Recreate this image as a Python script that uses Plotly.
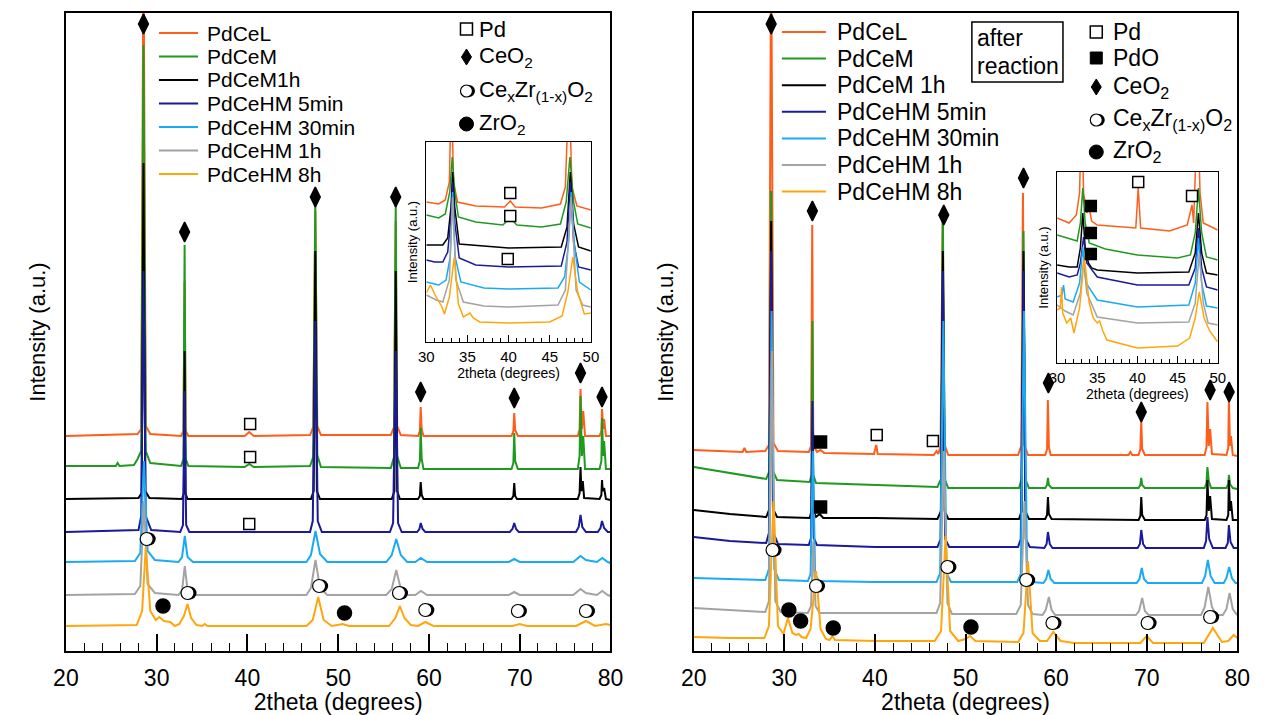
import plotly.graph_objects as go

W, H = 1265, 715
FONT = "Liberation Sans, Arial, sans-serif"

series_names_left = ["PdCeL", "PdCeM", "PdCeM1h", "PdCeHM 5min", "PdCeHM 30min", "PdCeHM 1h", "PdCeHM 8h"]
series_names_right = ["PdCeL", "PdCeM", "PdCeM 1h", "PdCeHM 5min", "PdCeHM 30min", "PdCeHM 1h", "PdCeHM 8h"]
colors = ["#FF5E1A", "#1F9A1F", "#000000", "#1A1A9A", "#1AAAF5", "#A3A3A3", "#FFA60D"]

# ---------------- left panel (as prepared), 2theta vs intensity (a.u., stacked) ----------------
L_PdCeL_x = [20, 27.9, 28.3, 28.55, 28.8, 29.3, 32.7, 32.95, 33.08, 33.2, 33.5, 39.7, 40.2, 40.7, 46.9, 47.25, 47.48, 47.7, 48.1, 55.8, 56.15, 56.34, 56.5, 56.9, 58.8, 59.0, 59.09, 59.2, 59.4, 69.1, 69.3, 69.4, 69.5, 69.8, 76.4, 76.6, 76.7, 76.85, 77.0, 77.2, 78.8, 79.0, 79.07, 79.2, 79.3, 79.5, 80]
L_PdCeL_y = [215, 217, 222, 720, 225, 217, 215, 220, 370, 220, 215, 215, 219, 215, 216, 224, 440, 225, 216, 216, 224, 430, 225, 216, 215, 220, 244, 222, 215, 215, 220, 238, 221, 215, 215, 222, 262, 222, 240, 215, 215, 220, 242, 222, 232, 215, 215]
L_PdCeM_x = [20, 25.5, 25.7, 25.9, 27.5, 27.9, 28.3, 28.55, 28.8, 29.3, 32.7, 32.95, 33.08, 33.2, 33.5, 39.7, 40.2, 40.7, 46.9, 47.25, 47.48, 47.7, 48.1, 55.8, 56.15, 56.34, 56.5, 56.9, 58.8, 59.0, 59.09, 59.2, 59.4, 69.1, 69.3, 69.4, 69.5, 69.8, 76.4, 76.6, 76.7, 76.85, 77.0, 77.2, 78.8, 79.0, 79.07, 79.2, 79.3, 79.5, 80]
L_PdCeM_y = [185, 185, 188, 185, 186, 192, 200, 606, 200, 188, 185, 192, 406, 192, 185, 184, 187, 184, 185, 194, 451, 196, 184, 183, 194, 446, 195, 183, 183, 190, 223, 192, 182, 182, 188, 218, 190, 182, 182, 195, 255, 195, 215, 182, 182, 190, 233, 195, 210, 182, 182]
L_PdCeM1h_x = [20, 28.0, 28.35, 28.55, 28.75, 29.2, 32.8, 33.0, 33.08, 33.17, 33.4, 47.0, 47.3, 47.48, 47.65, 48.0, 55.9, 56.2, 56.34, 56.5, 56.8, 58.8, 59.0, 59.09, 59.2, 59.4, 69.1, 69.3, 69.4, 69.5, 69.7, 76.4, 76.6, 76.7, 76.8, 76.95, 77.1, 78.8, 79.0, 79.07, 79.15, 79.3, 79.5, 80]
L_PdCeM1h_y = [152, 153, 158, 488, 160, 153, 152, 158, 300, 158, 152, 152, 160, 400, 160, 152, 152, 160, 380, 160, 152, 152, 155, 169, 156, 152, 152, 155, 168, 155, 152, 152, 158, 184, 160, 170, 153, 152, 156, 171, 160, 163, 152, 151]
L_5min_x = [20, 28.0, 28.3, 28.55, 28.8, 29.4, 32.6, 32.9, 33.08, 33.25, 33.6, 46.9, 47.2, 47.48, 47.75, 48.2, 55.7, 56.05, 56.34, 56.6, 57.0, 58.7, 58.95, 59.1, 59.3, 59.6, 68.9, 69.2, 69.4, 69.6, 69.9, 76.2, 76.5, 76.7, 76.9, 77.3, 78.6, 78.9, 79.07, 79.3, 79.7, 80]
L_5min_y = [119, 121, 135, 380, 135, 121, 119, 126, 260, 126, 119, 119, 130, 330, 130, 119, 119, 128, 300, 128, 119, 119, 122, 128, 122, 119, 119, 122, 128, 122, 119, 119, 124, 136, 124, 119, 119, 123, 130, 123, 119, 119]
L_30min_x = [20, 27.6, 28.2, 28.6, 29.0, 29.8, 32.4, 32.8, 33.1, 33.4, 34.0, 46.5, 47.0, 47.5, 48.0, 48.8, 55.3, 55.9, 56.4, 56.9, 57.6, 58.5, 59.1, 59.8, 68.8, 69.4, 70.0, 75.9, 76.7, 77.3, 78.5, 79.1, 79.7, 80]
L_30min_y = [89, 90, 98, 190, 100, 91, 89, 94, 115, 94, 89, 89, 96, 120, 97, 89, 89, 96, 112, 96, 89, 89, 93, 89, 89, 92, 89, 89, 95, 91, 89, 93, 89, 88]
L_1h_x = [20, 27.6, 28.2, 28.6, 29.0, 29.8, 32.4, 32.8, 33.1, 33.4, 34.0, 46.5, 47.0, 47.5, 48.0, 48.8, 55.3, 55.9, 56.4, 56.9, 57.6, 58.5, 59.1, 59.8, 68.8, 69.4, 70.0, 75.9, 76.7, 77.3, 78.5, 79.1, 79.7, 80]
L_1h_y = [56, 57, 65, 150, 67, 58, 56, 61, 85, 61, 56, 56, 63, 91, 63, 56, 56, 62, 81, 62, 56, 56, 60, 56, 56, 59, 56, 56, 62, 58, 56, 60, 56, 55]
L_8h_x = [20, 27.8, 28.4, 28.8, 29.3, 29.9, 30.3, 30.8, 31.5, 32.0, 32.5, 33.0, 33.4, 33.8, 34.4, 35.0, 35.3, 35.6, 46.5, 47.2, 47.8, 48.4, 49.3, 50.0, 50.5, 51.2, 55.6, 56.3, 56.8, 57.3, 58.0, 58.8, 59.6, 60.5, 69.2, 70.0, 70.8, 76.2, 77.3, 78.3, 79.0, 79.5, 80]
L_8h_y = [25, 26, 40, 104, 40, 31, 34, 30, 29, 25, 27, 35, 47, 33, 26, 25, 27, 25, 25, 31, 54, 31, 25, 26, 27, 25, 25, 33, 45, 33, 26, 25, 29, 25, 25, 27, 25, 25, 30, 25, 26, 27, 26]

# ---------------- right panel (after reaction) ----------------
R_PdCeL_x = [20, 25.4, 25.6, 25.8, 27.9, 28.3, 28.55, 28.8, 29.3, 32.7, 32.95, 33.08, 33.2, 33.6, 34.0, 34.4, 39.9, 40.15, 40.3, 46.5, 46.8, 47.0, 47.25, 47.48, 47.7, 48.1, 55.8, 56.15, 56.34, 56.5, 56.9, 58.8, 59.0, 59.09, 59.2, 59.4, 68.0, 68.2, 68.4, 69.1, 69.3, 69.4, 69.5, 69.8, 76.4, 76.6, 76.7, 76.85, 77.0, 77.2, 78.8, 79.0, 79.07, 79.2, 79.3, 79.5, 80]
R_PdCeL_y = [201, 199, 203, 199, 200, 206, 720, 208, 200, 199, 205, 426, 206, 199, 201, 198, 197, 206, 197, 196, 200, 197, 205, 432, 206, 196, 196, 205, 458, 206, 196, 196, 202, 251, 204, 196, 196, 199, 196, 196, 202, 231, 202, 196, 196, 204, 249, 205, 222, 197, 196, 203, 251, 205, 215, 196, 195]
R_PdCeM_x = [20, 24, 28.0, 28.35, 28.55, 28.75, 29.2, 32.8, 33.0, 33.1, 33.2, 33.5, 40, 46.9, 47.3, 47.5, 47.7, 48.1, 55.9, 56.2, 56.4, 56.6, 57.0, 58.8, 59.0, 59.1, 59.2, 59.5, 69.1, 69.3, 69.4, 69.5, 69.8, 76.4, 76.6, 76.7, 76.85, 77.1, 78.8, 79.0, 79.07, 79.2, 79.5, 80]
R_PdCeM_y = [184, 178, 172, 180, 460, 180, 171, 169, 176, 330, 176, 168, 166, 164, 172, 440, 172, 163, 163, 172, 420, 172, 163, 163, 166, 173, 166, 163, 163, 166, 173, 166, 163, 163, 168, 184, 170, 163, 163, 167, 176, 167, 163, 162]
R_PdCeM1h_x = [20, 24, 28.0, 28.35, 28.55, 28.75, 29.2, 32.8, 33.0, 33.1, 33.2, 33.5, 33.9, 34.3, 40, 46.9, 47.3, 47.5, 47.7, 48.1, 55.9, 56.2, 56.4, 56.6, 57.0, 58.8, 59.0, 59.1, 59.2, 59.5, 69.1, 69.3, 69.4, 69.5, 69.8, 76.4, 76.6, 76.7, 76.85, 77.0, 77.2, 78.8, 79.0, 79.07, 79.2, 79.3, 79.5, 80]
R_PdCeM1h_y = [141, 137, 134, 142, 430, 142, 134, 133, 140, 219, 140, 134, 137, 133, 133, 132, 140, 400, 140, 132, 132, 140, 400, 140, 132, 132, 136, 154, 137, 132, 131, 135, 154, 136, 131, 131, 136, 171, 140, 155, 132, 131, 136, 171, 140, 150, 131, 131]
R_5min_x = [20, 24, 28.0, 28.3, 28.55, 28.8, 29.3, 32.7, 32.95, 33.1, 33.25, 33.6, 40, 46.9, 47.25, 47.5, 47.75, 48.2, 55.8, 56.1, 56.4, 56.65, 57.1, 58.7, 58.95, 59.1, 59.3, 59.6, 69.0, 69.25, 69.4, 69.6, 69.9, 76.3, 76.55, 76.7, 76.9, 77.3, 78.7, 78.95, 79.07, 79.25, 79.6, 80]
R_5min_y = [114, 110, 108, 118, 400, 118, 107, 106, 113, 250, 113, 106, 104, 104, 112, 380, 112, 104, 104, 112, 380, 112, 104, 103, 107, 119, 107, 103, 103, 107, 121, 107, 103, 103, 110, 134, 112, 103, 103, 108, 126, 109, 103, 103]
R_30min_x = [20, 24, 27.9, 28.3, 28.6, 28.9, 29.4, 32.6, 32.9, 33.15, 33.4, 33.8, 40, 46.8, 47.2, 47.55, 47.9, 48.4, 55.7, 56.1, 56.45, 56.8, 57.3, 58.6, 58.9, 59.15, 59.4, 59.8, 68.9, 69.2, 69.45, 69.7, 70.1, 76.1, 76.45, 76.75, 77.05, 77.5, 78.5, 78.8, 79.1, 79.4, 79.8, 80]
R_30min_y = [73, 72, 71, 82, 340, 82, 71, 70, 77, 200, 77, 70, 69, 69, 78, 330, 78, 69, 69, 77, 340, 77, 69, 68, 72, 81, 72, 68, 68, 72, 83, 72, 68, 68, 75, 91, 75, 68, 68, 73, 84, 73, 68, 68]
R_1h_x = [20, 24, 27.9, 28.3, 28.65, 29.0, 29.6, 32.6, 32.95, 33.2, 33.45, 33.9, 40, 46.8, 47.2, 47.6, 48.0, 48.5, 55.6, 56.1, 56.5, 56.9, 57.4, 58.5, 58.85, 59.2, 59.5, 59.9, 68.8, 69.15, 69.5, 69.8, 70.2, 76.0, 76.4, 76.8, 77.2, 77.7, 78.4, 78.8, 79.15, 79.5, 79.9, 80]
R_1h_y = [43, 41, 39, 50, 300, 50, 39, 38, 45, 110, 45, 38, 38, 38, 48, 200, 48, 37, 37, 46, 150, 46, 37, 36, 41, 54, 41, 36, 36, 40, 53, 40, 36, 36, 44, 64, 44, 36, 36, 42, 58, 42, 37, 36]
R_8h_x = [20, 24, 27.8, 28.3, 28.8, 29.3, 29.9, 30.4, 30.9, 31.3, 31.6, 31.9, 32.4, 32.9, 33.5, 34.0, 34.6, 35.0, 35.3, 35.6, 40, 46.6, 47.3, 47.8, 48.3, 49.2, 50.0, 50.5, 51.1, 55.8, 56.4, 56.9, 57.4, 58.2, 59.0, 59.7, 60.5, 62, 69.3, 70.0, 70.7, 76.3, 77.3, 78.3, 79.0, 79.6, 80]
R_8h_y = [14, 13, 13, 25, 150, 25, 17, 33, 18, 16, 17, 14, 13, 22, 80, 22, 12, 11, 15, 11, 10, 10, 20, 115, 20, 10, 12, 15, 10, 9, 18, 90, 18, 10, 10, 19, 10, 8, 8, 15, 8, 8, 23, 9, 10, 16, 13]

# ---------------- left inset (30-50 deg) ----------------
LI_PdCeL_x = [30, 31.5, 32.3, 32.8, 33.05, 33.3, 33.8, 36, 39.5, 40.2, 40.8, 44, 46.3, 46.9, 47.35, 47.7, 48.3, 50]
LI_PdCeL_y = [140, 138, 142, 160, 260, 160, 140, 136, 135, 141, 135, 134, 138, 155, 260, 155, 136, 132]
LI_PdCeM_x = [30, 31.5, 32.3, 32.85, 33.15, 33.45, 33.9, 36, 39.3, 40.2, 41.0, 44, 46.3, 47.0, 47.45, 47.9, 48.4, 50]
LI_PdCeM_y = [127, 124, 128, 150, 185, 150, 125, 120, 117, 124, 117, 115, 118, 140, 185, 140, 118, 114]
LI_PdCeM1h_x = [30, 32, 32.6, 33.0, 33.2, 33.45, 34, 40, 46.4, 47.1, 47.5, 47.9, 48.5, 50]
LI_PdCeM1h_y = [97, 97, 104, 135, 170, 135, 98, 94, 95, 115, 170, 118, 95, 91]
LI_5min_x = [30, 31.0, 32.0, 32.6, 33.0, 33.2, 33.45, 34, 36, 40, 46.4, 47.1, 47.5, 47.9, 48.5, 50]
LI_5min_y = [82, 80, 80, 90, 125, 160, 120, 84, 77, 75, 76, 100, 160, 100, 75, 72]
LI_30min_x = [30, 31.5, 32.4, 32.9, 33.2, 33.5, 34.2, 37, 40, 46.0, 46.8, 47.3, 47.6, 48.0, 48.6, 50]
LI_30min_y = [60, 57, 62, 85, 150, 85, 60, 54, 53, 54, 65, 100, 150, 98, 60, 52]
LI_1h_x = [30, 31.2, 32.0, 32.8, 33.2, 33.6, 34.5, 37, 40, 46, 46.9, 47.6, 48.2, 49, 50]
LI_1h_y = [47, 42, 40, 62, 145, 62, 40, 36, 35, 37, 52, 145, 52, 37, 35]
LI_8h_x = [30, 30.5, 31.0, 31.5, 31.9, 32.2, 32.8, 33.4, 33.9, 34.5, 35.0, 35.3, 35.7, 36.5, 40, 45, 46.5, 47.2, 47.8, 48.4, 49.2, 50]
LI_8h_y = [49, 57, 48, 40, 35, 28, 45, 85, 38, 25, 27, 29, 24, 20, 19, 20, 26, 50, 85, 50, 28, 29]

# ---------------- right inset (30-50 deg) ----------------
RI_PdCeL_x = [30, 31.5, 32.4, 32.8, 33.05, 33.3, 33.7, 34.0, 34.3, 35, 39.8, 40.1, 40.4, 44, 46.2, 46.8, 47.0, 47.2, 47.5, 47.8, 48.2, 50]
RI_PdCeL_y = [145, 140, 148, 170, 260, 170, 150, 155, 142, 138, 135, 175, 135, 132, 138, 158, 140, 170, 260, 170, 140, 133]
RI_PdCeM_x = [30, 31.5, 32.5, 32.9, 33.2, 33.5, 34, 36, 40, 45, 46.6, 47.2, 47.6, 48.0, 48.6, 50]
RI_PdCeM_y = [128, 124, 122, 140, 175, 140, 120, 114, 108, 105, 108, 130, 175, 130, 106, 103]
RI_PdCeM1h_x = [30, 31.5, 32.5, 32.9, 33.2, 33.5, 33.9, 34.3, 35, 40, 46.4, 47.2, 47.6, 48.0, 48.6, 50]
RI_PdCeM1h_y = [98, 96, 96, 115, 150, 115, 100, 95, 93, 90, 91, 110, 150, 110, 90, 88]
RI_5min_x = [30, 31.5, 32.5, 32.9, 33.3, 33.7, 35, 40, 46.4, 47.2, 47.6, 48.0, 48.6, 50]
RI_5min_y = [90, 86, 88, 100, 126, 100, 86, 78, 78, 95, 135, 95, 76, 73]
RI_30min_x = [30, 30.6, 30.8, 31.0, 32.0, 32.8, 33.2, 33.6, 35, 40, 46.4, 47.2, 47.6, 48.0, 48.6, 50]
RI_30min_y = [66, 68, 78, 64, 61, 80, 116, 80, 63, 56, 58, 80, 125, 80, 57, 55]
RI_1h_x = [30, 31.0, 32.0, 32.9, 33.3, 33.7, 35, 40, 46.4, 47.2, 47.7, 48.2, 48.8, 50]
RI_1h_y = [58, 52, 48, 70, 103, 70, 46, 40, 41, 60, 110, 60, 40, 38]
RI_8h_x = [30, 30.4, 30.55, 30.7, 31.2, 31.7, 32.1, 32.8, 33.4, 34.0, 34.5, 35.0, 35.3, 35.7, 36.2, 40, 45, 46.5, 47.2, 47.7, 48.3, 49.0, 50]
RI_8h_y = [53, 55, 76, 50, 40, 45, 30, 55, 106, 60, 45, 40, 42, 32, 23, 15, 17, 25, 45, 71, 45, 32, 21]

# ---------------- phase markers ----------------
L_CeO2_x = [28.55, 33.08, 47.48, 56.34, 59.09, 69.4, 76.7, 79.07]
L_CeO2_y = [627, 419, 454, 454, 259, 253, 278, 254]
L_Pd_x = [40.3, 40.3, 40.2]
L_Pd_y = [227, 194, 127]
L_CeZr_x = [28.9, 33.4, 47.9, 56.7, 59.6, 69.8, 77.3]
L_CeZr_y = [112, 58, 65, 58, 41, 40, 40]
L_ZrO2_x = [30.7, 50.7]
L_ZrO2_y = [45, 38]

R_CeO2_x = [28.55, 33.1, 47.6, 56.4, 59.15, 69.4, 77.0, 79.1]
R_CeO2_y = [627, 440, 436, 473, 268, 239, 261, 259]
R_Pd_x = [40.2, 46.4]
R_Pd_y = [216, 210]
R_PdO_x = [34.0, 34.0]
R_PdO_y = [209, 144]
R_CeZr_x = [28.7, 33.5, 48.0, 56.7, 59.6, 70.1, 77.0]
R_CeZr_y = [101, 65, 84, 71, 28, 28, 34]
R_ZrO2_x = [30.5, 31.8, 35.4, 50.6]
R_ZrO2_y = [41, 30, 23, 24]

LI_Pd_x = [40.2, 40.2, 39.9]
LI_Pd_y = [149, 126, 83]
RI_Pd_x = [40.1, 46.8]
RI_Pd_y = [181, 167]
RI_PdO_x = [34.2, 34.2, 34.2]
RI_PdO_y = [157, 130, 109]

left_main = [(L_PdCeL_x, L_PdCeL_y), (L_PdCeM_x, L_PdCeM_y), (L_PdCeM1h_x, L_PdCeM1h_y), (L_5min_x, L_5min_y),
             (L_30min_x, L_30min_y), (L_1h_x, L_1h_y), (L_8h_x, L_8h_y)]
right_main = [(R_PdCeL_x, R_PdCeL_y), (R_PdCeM_x, R_PdCeM_y), (R_PdCeM1h_x, R_PdCeM1h_y), (R_5min_x, R_5min_y),
              (R_30min_x, R_30min_y), (R_1h_x, R_1h_y), (R_8h_x, R_8h_y)]
left_inset = [(LI_PdCeL_x, LI_PdCeL_y), (LI_PdCeM_x, LI_PdCeM_y), (LI_PdCeM1h_x, LI_PdCeM1h_y), (LI_5min_x, LI_5min_y),
              (LI_30min_x, LI_30min_y), (LI_1h_x, LI_1h_y), (LI_8h_x, LI_8h_y)]
right_inset = [(RI_PdCeL_x, RI_PdCeL_y), (RI_PdCeM_x, RI_PdCeM_y), (RI_PdCeM1h_x, RI_PdCeM1h_y), (RI_5min_x, RI_5min_y),
               (RI_30min_x, RI_30min_y), (RI_1h_x, RI_1h_y), (RI_8h_x, RI_8h_y)]

fig = go.Figure()
annotations = []
shapes = []

def add_lines(data, names, xa, ya, width):
    for (xs, ys), name, c in zip(data, names, colors):
        fig.add_trace(go.Scatter(x=xs, y=ys, mode="lines", name=name, xaxis=xa, yaxis=ya,
                                 line=dict(color=c, width=width), showlegend=False, hoverinfo="skip"))

add_lines(left_main, series_names_left, "x", "y", 2)
add_lines(right_main, series_names_right, "x2", "y2", 2)
add_lines(left_inset, series_names_left, "x3", "y3", 1.5)
add_lines(right_inset, series_names_right, "x4", "y4", 1.5)

def add_markers(xs, ys, xa, ya, symbol, size, fill="black", lw=1.5):
    fig.add_trace(go.Scatter(x=xs, y=ys, mode="markers", xaxis=xa, yaxis=ya, showlegend=False, hoverinfo="skip",
                             marker=dict(symbol=symbol, size=size, color=fill, line=dict(color="black", width=lw))))

CRESCENT_SHIFT = 0.28  # degrees: offset of the dark disc behind the white one (about 2.6 px)

def add_crescents(xs, ys, xa, ya):
    add_markers([x + CRESCENT_SHIFT for x in xs], ys, xa, ya, "circle", 13, "black", 0)
    add_markers(xs, ys, xa, ya, "circle", 13, "white", 1.2)

add_markers(L_CeO2_x, L_CeO2_y, "x", "y", "diamond-tall", 14)
add_markers(L_Pd_x, L_Pd_y, "x", "y", "square", 11, "white")
add_markers(L_ZrO2_x, L_ZrO2_y, "x", "y", "circle", 14)
add_crescents(L_CeZr_x, L_CeZr_y, "x", "y")

add_markers(R_CeO2_x, R_CeO2_y, "x2", "y2", "diamond-tall", 14)
add_markers(R_Pd_x, R_Pd_y, "x2", "y2", "square", 11, "white")
add_markers(R_PdO_x, R_PdO_y, "x2", "y2", "square", 12)
add_markers(R_ZrO2_x, R_ZrO2_y, "x2", "y2", "circle", 14)
add_crescents(R_CeZr_x, R_CeZr_y, "x2", "y2")

add_markers(LI_Pd_x, LI_Pd_y, "x3", "y3", "square", 11, "white")
add_markers(RI_Pd_x, RI_Pd_y, "x4", "y4", "square", 11, "white")
add_markers(RI_PdO_x, RI_PdO_y, "x4", "y4", "square", 11)

def px(xp):
    return xp / W

def py(yp):
    return 1 - yp / H

main_x = dict(range=[20, 80], showline=True, mirror=True, linecolor="black", linewidth=1.5,
              ticks="inside", tickmode="linear", tick0=20, dtick=10, ticklen=17, tickwidth=1.5, tickcolor="black",
              minor=dict(ticks="inside", dtick=2, ticklen=8, tickwidth=1.2, tickcolor="black"),
              tickfont=dict(family=FONT, size=23, color="black"), ticklabelstandoff=6,
              title=dict(text="2theta (degrees)", font=dict(family=FONT, size=23, color="black"), standoff=4),
              showgrid=False, zeroline=False)
main_y = dict(range=[0, 638], showline=True, mirror=True, linecolor="black", linewidth=1.5,
              ticks="", showticklabels=False, showgrid=False, zeroline=False,
              title=dict(text="Intensity (a.u.)", font=dict(family=FONT, size=22, color="black"), standoff=12))
inset_x = dict(range=[30, 50], showline=True, mirror=True, linecolor="black", linewidth=1.2,
               ticks="inside", tickmode="linear", tick0=30, dtick=5, ticklen=7, tickwidth=1.2, tickcolor="black",
               minor=dict(ticks="inside", dtick=1, ticklen=4, tickwidth=1, tickcolor="black"),
               tickfont=dict(family=FONT, size=15, color="black"), ticklabelstandoff=1,
               title=dict(text="2theta (degrees)", font=dict(family=FONT, size=14, color="black"), standoff=0),
               showgrid=False, zeroline=False)
inset_y = dict(showline=True, mirror=True, linecolor="black", linewidth=1.2, ticks="", showticklabels=False,
               showgrid=False, zeroline=False,
               title=dict(text="Intensity (a.u.)", font=dict(family=FONT, size=13, color="black"), standoff=4))

fig.update_layout(
    width=W, height=H, autosize=False, margin=dict(l=0, r=0, t=0, b=0),
    paper_bgcolor="white", plot_bgcolor="white", showlegend=False,
    xaxis=dict(main_x, domain=[px(54), px(610)], anchor="y"),
    yaxis=dict(main_y, domain=[py(651), py(13)], anchor="x"),
    xaxis2=dict(main_x, domain=[px(695), px(1250)], anchor="y2"),
    yaxis2=dict(main_y, domain=[py(651), py(13)], anchor="x2"),
    xaxis3=dict(inset_x, domain=[px(422), px(590)], anchor="y3"),
    yaxis3=dict(inset_y, range=[0, 200], domain=[py(342), py(142)], anchor="x3"),
    xaxis4=dict(inset_x, domain=[px(1066), px(1230)], anchor="y4"),
    yaxis4=dict(inset_y, range=[0, 191], domain=[py(363), py(172)], anchor="x4"),
)

def legend_block(x0, x1, xt, y0, dy, names, fsize):
    for i, (name, c) in enumerate(zip(names, colors)):
        yy = y0 + i * dy
        shapes.append(dict(type="line", xref="paper", yref="paper", x0=px(x0), x1=px(x1), y0=py(yy), y1=py(yy),
                           line=dict(color=c, width=2)))
        annotations.append(dict(text=name, xref="paper", yref="paper", x=px(xt), y=py(yy), xanchor="left",
                                yanchor="middle", showarrow=False, font=dict(family=FONT, size=fsize, color="black")))

legend_block(149, 189, 196, 33, 23.5, series_names_left, 21)
legend_block(785, 830, 839, 32, 26.6, series_names_right, 23)

def pixel_shape(kind, xc, yc, half_w, half_h, fill, lw, dx=0, path=None):
    s = dict(xref="paper", yref="paper", xsizemode="pixel", ysizemode="pixel", xanchor=px(xc), yanchor=py(yc),
             fillcolor=fill, line=dict(color="black", width=lw))
    if kind == "path":
        s.update(type="path", path=path)
    else:
        s.update(type=kind, x0=dx - half_w, x1=dx + half_w, y0=-half_h, y1=half_h)
    shapes.append(s)

def key(xg, xt, yy, glyph, label, fsize, r=6):
    if glyph == "open_square":
        pixel_shape("rect", xg, yy, r, r, "white", 1.5)
    elif glyph == "square":
        pixel_shape("rect", xg, yy, r, r, "black", 1)
    elif glyph == "diamond":
        pixel_shape("path", xg, yy, 0, 0, "black", 1, path="M 0,8 L 5,0 L 0,-8 L -5,0 Z")
    elif glyph == "circle":
        pixel_shape("circle", xg, yy, r + 1, r + 1, "black", 1)
    elif glyph == "crescent":
        pixel_shape("circle", xg, yy, r, r, "black", 0, dx=2.5)
        pixel_shape("circle", xg, yy, r, r, "white", 1.2)
    annotations.append(dict(text=label, xref="paper", yref="paper", x=px(xt), y=py(yy), xanchor="left",
                            yanchor="middle", showarrow=False, font=dict(family=FONT, size=fsize, color="black")))

key(463, 474, 29, "open_square", "Pd", 22)
key(463, 474, 57, "diamond", "CeO<sub>2</sub>", 22)
key(463, 474, 91, "crescent", "Ce<sub>x</sub>Zr<sub>(1-x)</sub>O<sub>2</sub>", 22)
key(463, 474, 124, "circle", "ZrO<sub>2</sub>", 22)

key(1106, 1121, 32, "open_square", "Pd", 23)
key(1106, 1121, 58, "square", "PdO", 23)
key(1106, 1121, 87, "diamond", "CeO<sub>2</sub>", 23)
key(1106, 1121, 120, "crescent", "Ce<sub>x</sub>Zr<sub>(1-x)</sub>O<sub>2</sub>", 23)
key(1106, 1121, 152, "circle", "ZrO<sub>2</sub>", 23)

shapes.append(dict(type="rect", xref="paper", yref="paper", x0=px(979), x1=px(1072), y0=py(82), y1=py(22),
                   line=dict(color="black", width=1.5), fillcolor="rgba(0,0,0,0)"))
annotations.append(dict(text="after", xref="paper", yref="paper", x=px(982), y=py(38), xanchor="left",
                        yanchor="middle", showarrow=False, font=dict(family=FONT, size=23, color="black")))
annotations.append(dict(text="reaction", xref="paper", yref="paper", x=px(982), y=py(66), xanchor="left",
                        yanchor="middle", showarrow=False, font=dict(family=FONT, size=23, color="black")))

fig.update_layout(shapes=shapes, annotations=annotations)
fig.write_html("out.html", config={"displayModeBar": False},
               post_script="document.body.style.margin='0';document.body.style.overflow='hidden';")
